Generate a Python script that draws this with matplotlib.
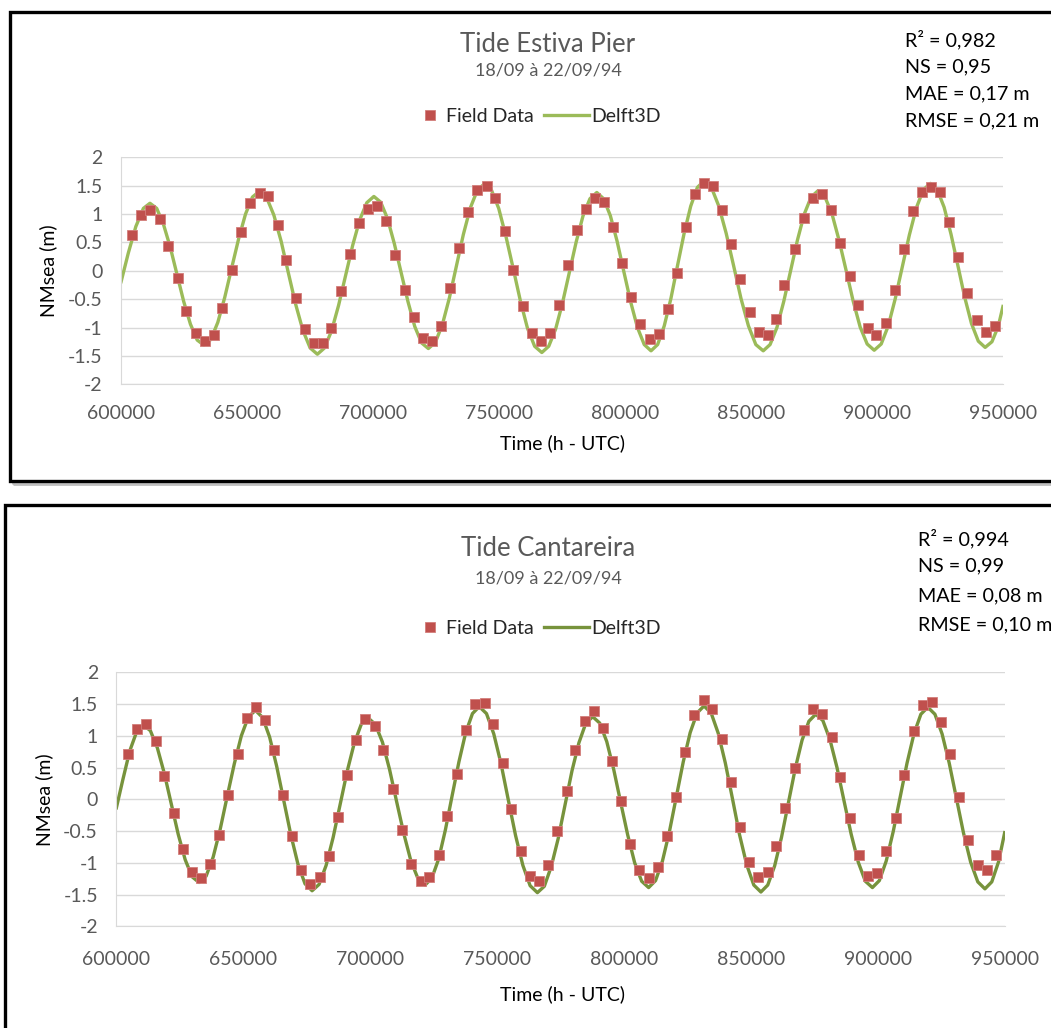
import matplotlib
matplotlib.use("Agg")
import matplotlib.pyplot as plt
from matplotlib.patches import Rectangle
from matplotlib.lines import Line2D

W, H = 1051, 1028

RED = "#C0504D"
RED_EDGE = "#D27E7B"
GREEN_LIGHT = "#9BBB59"
GREEN_DARK = "#77933C"
GRID = "#D9D9D9"
TEXT_GREY = "#595959"

plt.rcParams['font.family'] = ['Lato', 'DejaVu Sans']

# ---- Tide Estiva Pier (top) ----
top_field_t = [604480, 607930, 611620, 615470, 618880, 622600, 626020, 629740, 633310, 636880,
               640290, 644140, 647830, 651400, 655130, 658540, 662270, 665680, 669400, 672970,
               676660, 680110, 683520, 687370, 690820, 694510, 697960, 701770, 705220, 708910,
               712630, 716200, 719890, 723340, 727030, 730480, 734170, 737620, 741430, 745150,
               748560, 752290, 755700, 759430, 763000, 766690, 770140, 773710, 777520, 780970,
               784660, 788230, 791800, 795250, 798940, 802390, 806080, 809930, 813380, 817070,
               820520, 824210, 827660, 831350, 834920, 838490, 842180, 845740, 849470, 853040,
               856730, 860020, 863190, 867300, 871000, 874690, 878140, 881830, 885280, 889120,
               892530, 896250, 899670, 903390, 907080, 910530, 914340, 917790, 921480, 924800,
               928620, 932070, 935760, 939480, 943050, 946740]
top_field_v = [0.63, 0.98, 1.08, 0.92, 0.44, -0.12, -0.71, -1.10, -1.24, -1.13,
               -0.65, 0.02, 0.69, 1.19, 1.37, 1.31, 0.80, 0.19, -0.48, -1.03,
               -1.28, -1.28, -1.00, -0.36, 0.29, 0.85, 1.09, 1.15, 0.88, 0.28,
               -0.33, -0.81, -1.18, -1.24, -0.97, -0.31, 0.41, 1.04, 1.42, 1.49,
               1.29, 0.70, 0.01, -0.62, -1.09, -1.24, -1.10, -0.61, 0.10, 0.72,
               1.09, 1.28, 1.22, 0.77, 0.14, -0.46, -0.94, -1.20, -1.11, -0.68,
               -0.03, 0.78, 1.36, 1.55, 1.49, 1.07, 0.47, -0.14, -0.73, -1.07,
               -1.14, -0.85, -0.25, 0.38, 0.93, 1.28, 1.35, 1.07, 0.49, -0.09,
               -0.61, -1.01, -1.14, -0.92, -0.34, 0.38, 1.05, 1.39, 1.48, 1.39,
               0.86, 0.25, -0.40, -0.87, -1.08, -0.98]

top_model_t = [600000, 603000, 606000, 609000,
               611600, 614280, 616950, 619630, 622300, 624980, 627650, 630330,
               633000, 635750, 638500, 641250, 644000, 646750, 649500, 652250,
               655000, 657880, 660750, 663630, 666500, 669380, 672250, 675130,
               678000, 680800, 683600, 686400, 689200, 692000, 694800, 697600,
               700400, 703100, 705800, 708500, 711200, 713900, 716600, 719300,
               722000, 724780, 727550, 730330, 733100, 735880, 738650, 741430,
               744200, 747050, 749900, 752750, 755600, 758450, 761300, 764150,
               767000, 769730, 772450, 775180, 777900, 780630, 783350, 786080,
               788800, 791490, 794180, 796860, 799550, 802240, 804930, 807610,
               810300, 812930, 815550, 818180, 820800, 823430, 826050, 828680,
               831300, 834240, 837180, 840110, 843050, 845990, 848930, 851860,
               854800, 857510, 860230, 862940, 865650, 868360, 871080, 873790,
               876500, 879290, 882080, 884860, 887650, 890440, 893230, 896010,
               898800, 901590, 904380, 907160, 909950, 912740, 915530, 918310,
               921100, 923810, 926530, 929240, 931950, 934660, 937380, 940090,
               942800, 945500, 948000, 950000]
top_model_v = [-0.22, 0.31, 0.78, 1.10,
               1.19, 1.10, 0.82, 0.42, -0.06, -0.54, -0.94, -1.22,
               -1.31, -1.21, -0.91, -0.47, 0.05, 0.56, 1.00, 1.30,
               1.40, 1.29, 0.98, 0.52, -0.04, -0.59, -1.05, -1.36,
               -1.47, -1.36, -1.06, -0.61, -0.08, 0.45, 0.90, 1.20,
               1.31, 1.21, 0.92, 0.48, -0.03, -0.54, -0.98, -1.27,
               -1.37, -1.26, -0.95, -0.48, 0.08, 0.64, 1.11, 1.42,
               1.53, 1.42, 1.10, 0.61, 0.05, -0.52, -1.01, -1.33,
               -1.44, -1.33, -1.03, -0.57, -0.03, 0.51, 0.97, 1.27,
               1.38, 1.27, 0.97, 0.52, -0.02, -0.55, -1.00, -1.30,
               -1.41, -1.30, -0.97, -0.49, 0.09, 0.66, 1.14, 1.47,
               1.58, 1.47, 1.14, 0.66, 0.09, -0.49, -0.97, -1.30,
               -1.41, -1.30, -1.00, -0.54, 0.00, 0.54, 1.00, 1.30,
               1.41, 1.30, 1.00, 0.54, 0.01, -0.53, -0.99, -1.29,
               -1.40, -1.29, -0.97, -0.49, 0.07, 0.63, 1.11, 1.43,
               1.54, 1.43, 1.12, 0.65, 0.10, -0.46, -0.93, -1.24,
               -1.35, -1.25, -0.98, -0.60]

# ---- Tide Cantareira (bottom) ----
bot_field_t = [604720, 608130, 611810, 615620, 619020, 622830, 626250, 629920, 633330, 637140,
               640550, 644220, 647900, 651440, 655120, 658530, 662210, 665630, 669420, 672840,
               676510, 680190, 683740, 687520, 690940, 694610, 698150, 701850, 705240, 709050,
               712720, 716140, 719960, 723350, 727050, 730430, 734250, 737670, 741460, 745160,
               748550, 752250, 755630, 759450, 762870, 766530, 769960, 773500, 777440, 780830,
               784650, 788070, 791730, 795160, 798820, 802360, 806030, 809850, 813270, 816930,
               820360, 824140, 827560, 831380, 834770, 838590, 842250, 845670, 849330, 852880,
               856570, 859960, 863390, 867210, 870870, 874530, 877960, 881770, 885160, 888980,
               892400, 896060, 899610, 903270, 906970, 910360, 914180, 917600, 921260, 924680,
               928350, 931770, 935550, 939250, 942800, 946460]
bot_field_v = [0.72, 1.11, 1.18, 0.92, 0.37, -0.22, -0.79, -1.15, -1.24, -1.02,
               -0.57, 0.07, 0.72, 1.28, 1.46, 1.25, 0.77, 0.07, -0.58, -1.11,
               -1.34, -1.23, -0.90, -0.28, 0.39, 0.94, 1.27, 1.16, 0.77, 0.16,
               -0.49, -1.02, -1.28, -1.22, -0.87, -0.26, 0.40, 1.09, 1.50, 1.51,
               1.19, 0.57, -0.16, -0.81, -1.20, -1.28, -1.04, -0.50, 0.13, 0.78,
               1.24, 1.39, 1.13, 0.61, -0.02, -0.70, -1.11, -1.24, -1.06, -0.58,
               0.04, 0.75, 1.33, 1.57, 1.42, 0.95, 0.27, -0.43, -0.98, -1.23,
               -1.14, -0.73, -0.14, 0.50, 1.09, 1.42, 1.35, 0.98, 0.35, -0.29,
               -0.87, -1.20, -1.16, -0.81, -0.29, 0.39, 1.07, 1.48, 1.54, 1.22,
               0.72, 0.04, -0.64, -1.04, -1.11, -0.87]

bot_model_t = [600000, 602700, 605400, 608100,
               610800, 613540, 616280, 619010, 621750, 624490, 627230, 629960,
               632700, 635480, 638250, 641030, 643800, 646580, 649350, 652130,
               654900, 657690, 660480, 663260, 666050, 668840, 671630, 674410,
               677200, 679960, 682730, 685490, 688250, 691010, 693780, 696540,
               699300, 702100, 704900, 707700, 710500, 713300, 716100, 718900,
               721700, 724360, 727030, 729690, 732350, 735010, 737680, 740340,
               743000, 745860, 748730, 751590, 754450, 757310, 760180, 763040,
               765900, 768630, 771350, 774080, 776800, 779530, 782250, 784980,
               787700, 790450, 793200, 795950, 798700, 801450, 804200, 806950,
               809700, 812430, 815150, 817880, 820600, 823330, 826050, 828780,
               831500, 834300, 837100, 839900, 842700, 845500, 848300, 851100,
               853900, 856600, 859300, 862000, 864700, 867400, 870100, 872800,
               875500, 878290, 881080, 883860, 886650, 889440, 892230, 895010,
               897800, 900530, 903250, 905980, 908700, 911430, 914150, 916880,
               919600, 922410, 925230, 928040, 930850, 933660, 936480, 939290,
               942100, 944800, 947500, 950000]
bot_model_v = [-0.16, 0.31, 0.76, 1.06,
               1.17, 1.08, 0.81, 0.41, -0.07, -0.55, -0.95, -1.22,
               -1.31, -1.21, -0.91, -0.47, 0.05, 0.56, 1.00, 1.30,
               1.40, 1.29, 0.98, 0.52, -0.02, -0.56, -1.02, -1.33,
               -1.44, -1.34, -1.04, -0.60, -0.08, 0.44, 0.88, 1.18,
               1.28, 1.18, 0.90, 0.47, -0.04, -0.54, -0.97, -1.25,
               -1.35, -1.24, -0.94, -0.48, 0.06, 0.59, 1.05, 1.35,
               1.46, 1.35, 1.03, 0.56, -0.01, -0.57, -1.04, -1.36,
               -1.47, -1.37, -1.06, -0.62, -0.09, 0.45, 0.89, 1.20,
               1.30, 1.20, 0.91, 0.47, -0.05, -0.56, -1.00, -1.29,
               -1.39, -1.28, -0.97, -0.51, 0.04, 0.59, 1.05, 1.36,
               1.47, 1.36, 1.04, 0.57, 0.01, -0.56, -1.03, -1.35,
               -1.46, -1.35, -1.05, -0.60, -0.06, 0.48, 0.93, 1.23,
               1.34, 1.24, 0.94, 0.50, -0.03, -0.55, -0.99, -1.29,
               -1.39, -1.28, -0.97, -0.51, 0.03, 0.57, 1.03, 1.34,
               1.45, 1.34, 1.03, 0.57, 0.02, -0.53, -0.99, -1.30,
               -1.41, -1.30, -0.98, -0.50]

x_ticks = [600000, 650000, 700000, 750000, 800000, 850000, 900000, 950000]
y_ticks = [-2, -1.5, -1, -0.5, 0, 0.5, 1, 1.5, 2]
y_tick_labels = ["-2", "-1.5", "-1", "-0.5", "0", "0.5", "1", "1.5", "2"]

top_title = "Tide Estiva Pier"
bot_title = "Tide Cantareira"
subtitle = "18/09 à 22/09/94"
top_stats = ["R² = 0,982", "NS = 0,95", "MAE = 0,17 m", "RMSE = 0,21 m"]
bot_stats = ["R² = 0,994", "NS = 0,99", "MAE = 0,08 m", "RMSE = 0,10 m"]

FS = 14  # main text size (pt)


def fx(x):
    return x / W


def fy(y):
    return 1 - y / H


def draw_panel(fig, box, plot, field_t, field_v, model_t, model_v, line_color,
               title, stats, txt):
    # outer black frame of the Excel chart (pixel coords), kept behind the axes
    bx0, by0, bx1, by1 = box
    fig.add_artist(Rectangle((fx(bx0) + 0.003, fy(by1) - 0.003), fx(bx1 - bx0), (by1 - by0) / H,
                             transform=fig.transFigure, fill=False, edgecolor="#BFBFBF", lw=2.0,
                             clip_on=False, zorder=-2))
    fig.add_artist(Rectangle((fx(bx0), fy(by1)), fx(bx1 - bx0), (by1 - by0) / H,
                             transform=fig.transFigure, fill=True, facecolor="white",
                             edgecolor="black", lw=2.4, clip_on=False, zorder=-1))

    px0, py0, px1, py1 = plot
    ax = fig.add_axes([fx(px0), fy(py1), fx(px1 - px0), (py1 - py0) / H])
    ax.plot(model_t, model_v, color=line_color, lw=2.4, zorder=2, solid_capstyle='butt')
    ax.plot(field_t, field_v, ls='none', marker='s', ms=7, mfc=RED, mec=RED_EDGE, mew=0.6, zorder=3)

    ax.set_xlim(600000, 950000)
    ax.set_ylim(-2, 2)
    ax.set_xticks(x_ticks)
    ax.set_xticklabels([str(t) for t in x_ticks])
    ax.set_yticks(y_ticks)
    ax.set_yticklabels(y_tick_labels)
    ax.tick_params(length=0, labelsize=FS, colors=TEXT_GREY)
    ax.tick_params(axis='x', pad=txt['xpad'])
    ax.tick_params(axis='y', pad=13)
    ax.grid(axis='y', color=GRID, lw=1.0)
    ax.set_axisbelow(True)
    for s in ['top', 'right']:
        ax.spines[s].set_visible(False)
    ax.spines['left'].set_color(GRID)
    ax.spines['bottom'].set_color(GRID)

    cx = 548
    fig.text(fx(cx), fy(txt['title']), title, ha='center', va='center', fontsize=18.5, color=TEXT_GREY)
    fig.text(fx(cx), fy(txt['sub']), subtitle, ha='center', va='center', fontsize=13, color=TEXT_GREY)
    for s, yy in zip(stats, txt['stats']):
        fig.text(fx(txt['stats_x']), fy(yy), s, ha='left', va='center', fontsize=14.2, color='black')

    # legend in two pieces so the square sits close to its label as in Excel
    ly = fy(txt['legend'])
    h1 = Line2D([], [], ls='none', marker='s', ms=7, mfc=RED, mec=RED_EDGE, mew=0.6)
    h2 = Line2D([], [], color=line_color, lw=2.4)
    fig.legend([h1], ["Field Data"], loc='center left', bbox_to_anchor=(fx(422), ly),
               frameon=False, fontsize=FS, handlelength=0.8, handletextpad=0.45,
               borderpad=0, borderaxespad=0, labelcolor='#262626')
    fig.legend([h2], ["Delft3D"], loc='center left', bbox_to_anchor=(fx(544), ly),
               frameon=False, fontsize=FS, handlelength=2.3, handletextpad=0.15,
               borderpad=0, borderaxespad=0, labelcolor='#262626')

    fig.text(fx(txt['ylab_x']), fy((py0 + py1) / 2), "NMsea (m)", rotation=90,
             ha='center', va='center', fontsize=FS, color='black')
    fig.text(fx(562), fy(txt['xlab']), "Time (h - UTC)", ha='center', va='center',
             fontsize=FS, color='black')
    return ax


def draw_figs():
    fig = plt.figure(figsize=(W / 100, H / 100), dpi=100)

    draw_panel(fig, (10, 12, 1070, 481), (120.7, 157.3, 1003.3, 384.3),
               top_field_t, top_field_v, top_model_t, top_model_v, GREEN_LIGHT,
               top_title, top_stats,
               dict(title=45, sub=71, legend=116, stats=[40, 67, 94, 121], stats_x=905,
                    ylab_x=48, xlab=443, xpad=15))
    draw_panel(fig, (5, 505, 1070, 1050), (116, 672.3, 1005, 926.3),
               bot_field_t, bot_field_v, bot_model_t, bot_model_v, GREEN_DARK,
               bot_title, bot_stats,
               dict(title=548, sub=578, legend=628, stats=[539, 566, 596, 625], stats_x=918,
                    ylab_x=44, xlab=994, xpad=18))

    fig.savefig("out.png", dpi=100)


if __name__ == '__main__':
    draw_figs()
